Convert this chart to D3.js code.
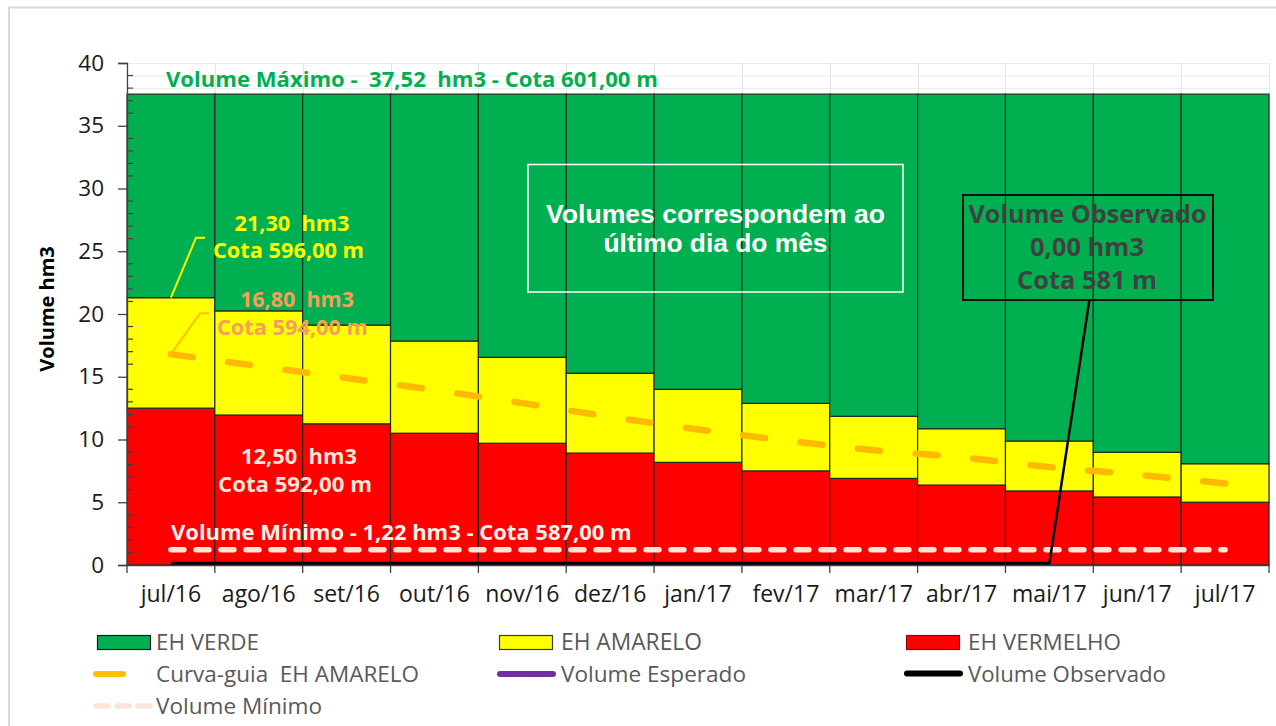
<!DOCTYPE html>
<html>
<head>
<meta charset="utf-8">
<script src="https://cdn.jsdelivr.net/npm/d3@7"></script>
<style>
  html, body { margin: 0; padding: 0; background: #ffffff; }
  svg { display: block; }
  text { white-space: pre; }
</style>
</head>
<body>
<svg id="chart" width="1276" height="726"></svg>
<script>
// ---------------- DATA ----------------
const months = ["jul/16","ago/16","set/16","out/16","nov/16","dez/16","jan/17","fev/17","mar/17","abr/17","mai/17","jun/17","jul/17"];
const ehVermelho = [12.50, 11.95, 11.25, 10.50, 9.70, 8.92, 8.18, 7.50, 6.90, 6.37, 5.90, 5.42, 5.00];
const ehAmarelo  = [8.80, 8.30, 7.87, 7.35, 6.85, 6.36, 5.82, 5.38, 4.95, 4.49, 3.98, 3.56, 3.07];
const ehVerde    = [16.22, 17.27, 18.40, 19.67, 20.97, 22.24, 23.52, 24.64, 25.67, 26.66, 27.64, 28.54, 29.45];
const curvaGuia  = [16.80, 15.85, 14.90, 13.95, 12.90, 11.80, 10.80, 9.90, 9.15, 8.60, 7.80, 7.20, 6.50];
const volumeMinimo = [1.22, 1.22, 1.22, 1.22, 1.22, 1.22, 1.22, 1.22, 1.22, 1.22, 1.22, 1.22, 1.22];
const volumeObservado = [0, 0, 0, 0, 0, 0, 0, 0, 0, 0, 0, null, null];
const volumeEsperado = [null, null, null, null, null, null, null, null, null, null, null, null, null];
const yTicks = [0, 5, 10, 15, 20, 25, 30, 35, 40];
const seriesNames = ["EH VERMELHO", "EH AMARELO", "EH VERDE"];
const seriesColors = ["#FF0000", "#FFFF00", "#00B050"];

// ---------------- LAYOUT ----------------
const svg = d3.select("#chart");
const FONT = "'Open Sans', 'Noto Sans', sans-serif";
const pLeft = 127, pRight = 1269, pTop = 63, pBottom = 565;

const x = d3.scaleBand().domain(months).range([pLeft, pRight]).paddingInner(0).paddingOuter(0);
const y = d3.scaleLinear().domain([0, 40]).range([pBottom, pTop]);
const cx = m => x(m) + x.bandwidth() / 2;

svg.append("rect").attr("width", 1276).attr("height", 726).attr("fill", "#ffffff");
// outer chart border
svg.append("rect").attr("x", 9).attr("y", 7.5).attr("width", 1300).attr("height", 800)
  .attr("fill", "none").attr("stroke", "#d9d9d9").attr("stroke-width", 2);

// gridlines (faint)
const grid = svg.append("g");
grid.selectAll("line.h").data(d3.range(0, 41, 1)).join("line")
  .attr("x1", pLeft).attr("x2", pRight).attr("y1", d => y(d) + 0.5).attr("y2", d => y(d) + 0.5)
  .attr("stroke", "#ececec").attr("stroke-width", 1);
grid.selectAll("line.v").data(d3.range(months.length + 1)).join("line")
  .attr("x1", i => Math.round(pLeft + i * x.bandwidth()) + 0.5)
  .attr("x2", i => Math.round(pLeft + i * x.bandwidth()) + 0.5)
  .attr("y1", pTop).attr("y2", pBottom)
  .attr("stroke", "#e4e4e4").attr("stroke-width", 1);

// ---------------- STACKED BARS ----------------
const table = months.map((m, i) => ({ month: m, "EH VERMELHO": ehVermelho[i], "EH AMARELO": ehAmarelo[i], "EH VERDE": ehVerde[i] }));
const stacked = d3.stack().keys(seriesNames)(table);
const barG = svg.append("g");
stacked.forEach((layer, li) => {
  barG.append("g").selectAll("rect").data(layer).join("rect")
    .attr("x", d => x(d.data.month))
    .attr("width", x.bandwidth())
    .attr("y", d => y(d[1]))
    .attr("height", d => y(d[0]) - y(d[1]))
    .attr("fill", seriesColors[li])
    .attr("stroke", "#1f2a1f").attr("stroke-width", 1.2);
});

// ---------------- LINES ----------------
const lineGen = d3.line().defined(d => d.v != null).x(d => cx(d.m)).y(d => y(d.v));
const asPts = arr => months.map((m, i) => ({ m, v: arr[i] }));

svg.append("path").datum(asPts(curvaGuia)).attr("d", lineGen)
  .attr("fill", "none").attr("stroke", "#FFB900").attr("stroke-width", 6.5)
  .attr("stroke-linecap", "round").attr("stroke-dasharray", "22 35.8");

svg.append("path").datum(asPts(volumeMinimo)).attr("d", lineGen)
  .attr("fill", "none").attr("stroke", "#FCE4D6").attr("stroke-width", 5.5)
  .attr("stroke-linecap", "round").attr("stroke-dasharray", "13 12");

svg.append("path").datum(asPts(volumeEsperado)).attr("d", lineGen)
  .attr("fill", "none").attr("stroke", "#7030A0").attr("stroke-width", 5);

svg.append("path").datum(asPts(volumeObservado)).attr("d", lineGen)
  .attr("transform", "translate(0,-1.5)")
  .attr("fill", "none").attr("stroke", "#000000").attr("stroke-width", 3.5);

// ---------------- AXES ----------------
const axisColor = "#404040";
const yAxis = svg.append("g").attr("transform", `translate(${pLeft},0)`)
  .call(d3.axisLeft(y).tickValues(yTicks).tickSize(9).tickPadding(14).tickFormat(d3.format("d")));
yAxis.select(".domain").attr("stroke", axisColor).attr("stroke-width", 1.3);
yAxis.selectAll(".tick line").attr("stroke", axisColor).attr("stroke-width", 1.3);
yAxis.selectAll(".tick text").attr("font-family", FONT).attr("font-size", 22.5).attr("fill", "#1a1a1a");
// minor ticks (inside)
svg.append("g").selectAll("line").data(d3.range(0, 41).filter(d => d % 5 !== 0)).join("line")
  .attr("x1", pLeft).attr("x2", pLeft + 6).attr("y1", d => y(d)).attr("y2", d => y(d))
  .attr("stroke", axisColor).attr("stroke-width", 1.2);

const xAxis = svg.append("g").attr("transform", `translate(0,${pBottom})`)
  .call(d3.axisBottom(x).tickSize(0).tickPadding(21));
xAxis.select(".domain").attr("stroke", axisColor).attr("stroke-width", 1.3);
xAxis.selectAll(".tick text").attr("font-family", FONT).attr("font-size", 23).attr("fill", "#1a1a1a").attr("dy", "0.71em");
// boundary ticks
svg.append("g").selectAll("line").data(d3.range(months.length + 1)).join("line")
  .attr("x1", i => pLeft + i * x.bandwidth()).attr("x2", i => pLeft + i * x.bandwidth())
  .attr("y1", pBottom).attr("y2", pBottom + 8)
  .attr("stroke", axisColor).attr("stroke-width", 1.3);

svg.append("text").attr("transform", "translate(54,309) rotate(-90)")
  .attr("text-anchor", "middle").attr("font-family", FONT).attr("font-weight", "bold")
  .attr("font-size", 20).attr("fill", "#000").text("Volume hm3");

// ---------------- ANNOTATIONS ----------------
function fitW(sel, w) {
  sel.each(function () {
    const len = this.getComputedTextLength();
    const fs = parseFloat(this.getAttribute("font-size"));
    if (len > 0) this.setAttribute("font-size", (fs * w / len).toFixed(2));
  });
  return sel;
}
function label(txt, xx, yy, size, color, anchor, w, family, weight) {
  const t = svg.append("text").attr("x", xx).attr("y", yy)
    .attr("text-anchor", anchor || "start")
    .attr("font-family", family || FONT).attr("font-weight", weight || "bold")
    .attr("font-size", size).attr("fill", color).text(txt);
  if (w) fitW(t, w);
  return t;
}

label("Volume Máximo -  37,52  hm3 - Cota 601,00 m", 166, 87, 20, "#00B050", "start", 492);

// yellow annotation + leader
svg.append("path").attr("d", `M${cx(months[0])},${y(ehVermelho[0] + ehAmarelo[0])} L196,237.7 L205,237.7`)
  .attr("fill", "none").attr("stroke", "#FFFF00").attr("stroke-width", 2);
label("21,30  hm3", 292, 231, 20, "#FFFF00", "middle", 115);
label("Cota 596,00 m", 288.5, 258, 20, "#FFFF00", "middle", 151);

// orange annotation + leader
svg.append("path").attr("d", `M${cx(months[0])},${y(curvaGuia[0])} L200,313.3 L209,313.3`)
  .attr("fill", "none").attr("stroke", "#FFC000").attr("stroke-width", 2);
label("16,80  hm3", 297, 307, 20, "#F4A05A", "middle", 114);
label("Cota 594,00 m", 292.5, 335, 20, "#F4A05A", "middle", 151);

// red annotation
label("12,50  hm3", 299, 464, 20, "#FCE4D6", "middle", 116);
label("Cota 592,00 m", 295, 491.5, 20, "#FCE4D6", "middle", 154);

// minimum volume
label("Volume Mínimo - 1,22 hm3 - Cota 587,00 m", 171, 540, 20, "#FDF1EA", "start", 461);

// info box
svg.append("rect").attr("x", 528).attr("y", 164.5).attr("width", 375).attr("height", 127.5)
  .attr("fill", "none").attr("stroke", "#ffffff").attr("stroke-width", 1.5);
label("Volumes correspondem ao", 715.5, 222.5, 24, "#ffffff", "middle", 339, "'Liberation Sans', Arial, sans-serif");
label("último dia do mês", 715.5, 251.5, 24, "#ffffff", "middle", 224, "'Liberation Sans', Arial, sans-serif");

// observed volume callout
const obsIdx = 10;
svg.append("line").attr("x1", cx(months[obsIdx])).attr("y1", y(volumeObservado[obsIdx]) - 1.5)
  .attr("x2", 1089.3).attr("y2", 300.5).attr("stroke", "#000").attr("stroke-width", 2.5);
svg.append("rect").attr("x", 963).attr("y", 195).attr("width", 250).attr("height", 105)
  .attr("fill", "none").attr("stroke", "#111").attr("stroke-width", 2);
label("Volume Observado", 1087.5, 222.5, 22, "#404040", "middle", 238);
label("0,00 hm3", 1087, 256, 22, "#404040", "middle", 114);
label("Cota 581 m", 1087, 289.3, 22, "#404040", "middle", 140);

// ---------------- LEGEND ----------------
const lg = svg.append("g");
const legText = (txt, xx, yy, w) => {
  const t = lg.append("text").attr("x", xx).attr("y", yy).attr("font-family", FONT)
    .attr("font-size", 21.5).attr("fill", "#595959").text(txt);
  if (w) fitW(t, w);
};
const swatch = (xx, color, stroke) => lg.append("rect").attr("x", xx).attr("y", 635.5).attr("width", 53).attr("height", 14)
  .attr("fill", color).attr("stroke", stroke).attr("stroke-width", 1.2);

swatch(97.5, "#00B050", "#1a1a1a");
legText("EH VERDE", 156, 650, 103);
swatch(499.5, "#FFFF00", "#3a3a3a");
legText("EH AMARELO", 561, 650, 141);
swatch(906.5, "#FF0000", "#7a1010");
legText("EH VERMELHO", 968, 650, 153);

lg.append("line").attr("x1", 96).attr("x2", 123).attr("y1", 674).attr("y2", 674)
  .attr("stroke", "#FFC000").attr("stroke-width", 6).attr("stroke-linecap", "round");
legText("Curva-guia  EH AMARELO", 156, 682, 263);
lg.append("line").attr("x1", 500).attr("x2", 553).attr("y1", 674).attr("y2", 674)
  .attr("stroke", "#7030A0").attr("stroke-width", 6).attr("stroke-linecap", "round");
legText("Volume Esperado", 561, 682, 185);
lg.append("line").attr("x1", 907).attr("x2", 960).attr("y1", 673.5).attr("y2", 673.5)
  .attr("stroke", "#000").attr("stroke-width", 6).attr("stroke-linecap", "round");
legText("Volume Observado", 968, 682, 198);

lg.append("line").attr("x1", 96).attr("x2", 150).attr("y1", 706).attr("y2", 706)
  .attr("stroke", "#FCE4D6").attr("stroke-width", 5.5).attr("stroke-linecap", "round")
  .attr("stroke-dasharray", "12 9");
legText("Volume Mínimo", 156, 713.5, 166);
</script>
</body>
</html>
